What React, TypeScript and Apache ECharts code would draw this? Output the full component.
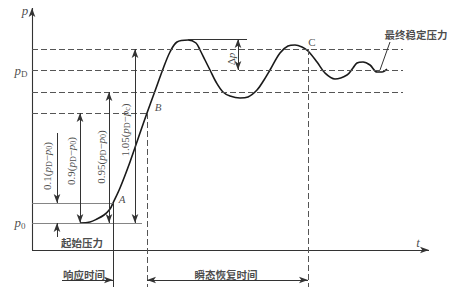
import React, { useEffect, useRef } from "react";
import * as echarts from "echarts";

// Pressure-time transient curve (time t, pressure p) in drawing units
const curveT = [48, 58, 65, 72, 78, 81, 88, 98, 108, 115, 123, 131, 138, 145, 156, 164, 168, 173, 178, 184, 191, 198, 208, 216, 225, 232, 238, 248, 256, 263, 270, 276, 285, 293, 303, 315, 321, 325, 331, 338, 345, 350, 355];
const curveP = [27, 28, 31, 35, 41, 47, 62, 88, 117, 137, 159, 181, 198, 208, 210, 207, 200, 190, 180, 168, 158, 154, 152, 153, 160, 170, 180, 197, 204, 205, 203, 199, 188, 177, 171, 175, 182, 187, 188, 185, 178, 178, 181];

// Pressure levels
const pZero = 27; // p0
const pA = 47; // p0 + 0.1(pD-p0)
const pB = 137; // p0 + 0.9(pD-p0)
const p95 = 158; // 0.95
const pD = 180; // pD
const p105 = 201; // 1.05
const pPeak = 211;

// Time marks
const tA = 81;
const tB = 115;
const tC = 276;
const tEnd = 371;
const tMax = 397;
const pMax = 242;
const tPeakLeft = 156;
const tPeakRight = 215;
const tLeader = [358, 348];
const pLeader = [208, 180];
const tBelow = -37;
const tTimeArrow = -30;

// Text annotations
const labelTexts = [
  "{I|p}",
  "{I|p}{S|D}",
  "{I|p}{S|0}",
  "{I|t}",
  "{i|A}",
  "{i|B}",
  "{n|C}",
  "{n|Δ}{i|p}",
  "{h|起始压力}",
  "{h|响应时间}",
  "{h|瞬态恢复时间}",
  "{h|最终稳定压力}",
  "{n|0.1(}{i|p}{s|D}{n|−}{i|p}{s|0}{n|)}",
  "{n|0.9(}{i|p}{s|D}{n|−}{i|p}{s|0}{n|)}",
  "{n|0.95(}{i|p}{s|D}{n|−}{i|p}{s|0}{n|)}",
  "{n|1.05(}{i|p}{s|D}{n|−}{i|p}{s|c}{n|)}",
];
const labelT = [-7, -11, -12, 386, 90, 126, 280, 199, 50, 52, 194, 384, 15, 39, 69, 93];
const labelP = [240, 180, 28, 8, 51, 143, 208, 191, 8, -24, -24, 216, 84, 89, 93, 120];
const labelRotate = [0, 0, 0, 0, 0, 0, 0, 90, 0, 0, 0, 0, 90, 90, 90, 90];

export default function App() {
  const ref = useRef<HTMLDivElement>(null);
  useEffect(() => {
    if (!ref.current) return;
    const chart = echarts.init(ref.current, null, { renderer: "svg" });
    const ink = "#1a1a1a";
    const dash = { color: "#555", type: [6, 3] as any, width: 1 };
    const thin = { color: "#777", width: 0.9, type: "solid" as any };
    const solid = { color: "#333", width: 1, type: "solid" as any };
    const axisStyle = { color: "#333", width: 1.1, type: "solid" as any };
    const arrowSize = [5, 9];
    const seg = (a: number[], b: number[], style: any, s1 = "none", s2 = "none") => [
      { coord: a, symbol: s1, symbolSize: arrowSize, lineStyle: style },
      { coord: b, symbol: s2, symbolSize: arrowSize },
    ];
    const lines = [
      seg([0, 0], [0, pMax], axisStyle, "none", "arrow"),
      seg([0, 0], [tMax, 0], axisStyle, "none", "arrow"),
      seg([0, p105], [tEnd, p105], dash),
      seg([0, pD], [tEnd, pD], dash),
      seg([0, p95], [tEnd, p95], dash),
      seg([0, pB], [tB, pB], dash),
      seg([0, pA], [tA, pA], thin),
      seg([0, pZero], [tA + 29, pZero], thin),
      seg([tPeakLeft, pPeak], [tPeakRight, pPeak], solid),
      seg([tA, pA], [tA, tBelow], solid),
      seg([tB, pB], [tB, tBelow], dash),
      seg([tC, p105], [tC, tBelow], dash),
      seg([25, 117], [25, pA], solid, "none", "arrow"),
      seg([25, 13], [25, pZero], solid, "none", "arrow"),
      seg([48, pZero], [48, pB], solid, "arrow", "arrow"),
      seg([77, pZero], [77, p95], solid, "arrow", "arrow"),
      seg([103, pZero], [103, p105], solid, "arrow", "arrow"),
      seg([206, pD], [206, pPeak], solid, "arrow", "arrow"),
      seg([30, tTimeArrow], [tA, tTimeArrow], solid, "none", "arrow"),
      seg([tB, tTimeArrow], [tC, tTimeArrow], solid, "arrow", "arrow"),
      seg([tLeader[0], pLeader[0]], [tLeader[1], pLeader[1]], solid),
    ];
    const serif = "'Liberation Serif', 'DejaVu Serif', serif";
    const rich = {
      n: { fontFamily: serif, fontSize: 11, color: ink },
      i: { fontFamily: serif, fontStyle: "italic", fontSize: 11, color: ink },
      s: { fontFamily: serif, fontSize: 8, color: ink, padding: [5, 0, 0, 0] },
      I: { fontFamily: serif, fontStyle: "italic", fontSize: 13, color: ink },
      S: { fontFamily: serif, fontSize: 9, color: ink, padding: [7, 0, 0, 0] },
      h: { fontFamily: "'Noto Sans CJK SC', sans-serif", fontWeight: "bold", fontSize: 10.5, color: ink },
    };
    chart.setOption({
      animation: false,
      grid: { left: 0, right: 0, top: 0, bottom: 0 },
      xAxis: {
        type: "value", min: -32, max: 440,
        axisLine: { show: false }, axisTick: { show: false }, axisLabel: { show: false }, splitLine: { show: false },
      },
      yAxis: {
        type: "value", min: -46, max: 250,
        axisLine: { show: false }, axisTick: { show: false }, axisLabel: { show: false }, splitLine: { show: false },
      },
      series: [
        {
          type: "line",
          data: curveT.map((t, i) => [t, curveP[i]]),
          smooth: 0.35,
          showSymbol: false,
          silent: true,
          lineStyle: { color: ink, width: 1.6 },
          markLine: {
            silent: true,
            symbol: ["none", "none"],
            label: { show: false },
            emphasis: { disabled: true },
            data: lines,
          },
        },
        {
          type: "scatter",
          symbolSize: 0,
          silent: true,
          data: labelTexts.map((txt, i) => ({
            value: [labelT[i], labelP[i]],
            label: { formatter: txt, rotate: labelRotate[i] },
          })),
          label: { show: true, position: "inside", rich },
        },
      ],
    });
    return () => chart.dispose();
  }, []);
  return <div ref={ref} style={{ position: "fixed", left: 0, top: 0, width: 472, height: 296, background: "#fff" }} />;
}
